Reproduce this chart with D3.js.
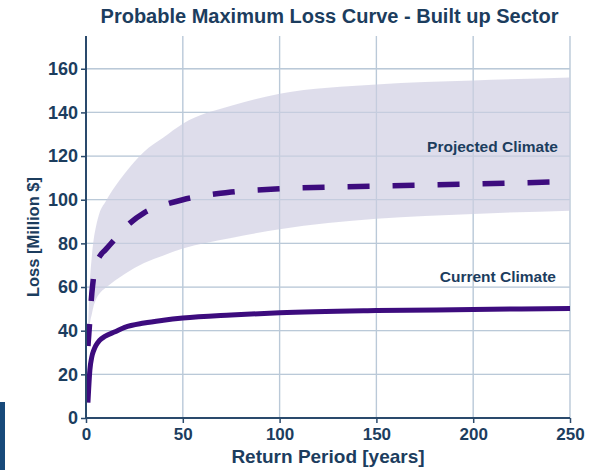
<!DOCTYPE html>
<html>
<head>
<meta charset="utf-8">
<script src="https://cdn.jsdelivr.net/npm/d3@7"></script>
<style>
  html, body { margin: 0; padding: 0; background: #ffffff; }
  svg { display: block; }
</style>
</head>
<body>
<svg id="chart" width="590" height="470"></svg>
<script>
const returnPeriods = [1, 2, 3, 4, 5, 7, 10, 15, 20, 30, 40, 50, 75, 100, 150, 200, 250];
const currentLoss   = [7, 22, 28, 31, 33, 35.6, 37.5, 39.5, 41.5, 43.5, 44.8, 45.8, 47.2, 48.2, 49.2, 49.7, 50.2];
const projectedLoss = [33, 45, 57, 65, 70, 74, 77, 82, 87, 94, 97.5, 100, 103.5, 105, 106.2, 107.2, 108.3];
const upperBound    = [40, 62, 74, 82, 87, 94, 99, 106, 112, 122, 128.5, 134.8, 143, 148.5, 152.8, 154.6, 156];
const lowerBound    = [33, 43, 47.5, 51.5, 54, 57, 59.5, 63, 66, 71, 74.5, 77.6, 82.5, 86.5, 91.3, 93.5, 95];
const xTicks = [0, 50, 100, 150, 200, 250];
const yTicks = [0, 20, 40, 60, 80, 100, 120, 140, 160];

const titleText = "Probable Maximum Loss Curve - Built up Sector";
const xLabel = "Return Period [years]";
const yLabel = "Loss [Million $]";
const seriesLabels = ["Projected Climate", "Current Climate"];

const textColor = "#1c3d5e";
const lineColor = "#3d0c7e";
const bandColor = "#dcdbea";
const gridColor = "#c9d5e2";
const font = "'Liberation Sans', Arial, sans-serif";

const svg = d3.select("#chart");

const x = d3.scaleLinear().domain([0, 250]).range([86, 570]);
const y = d3.scaleLinear().domain([0, 175]).range([418, 36]);

// decorative side bar
svg.append("rect").attr("x", 0).attr("y", 402).attr("width", 5).attr("height", 68).attr("fill", "#17497a");

function drawGrid(g, color) {
  g.selectAll(".vg").data(xTicks.filter(d => d > 0)).enter().append("line")
    .attr("x1", d => x(d)).attr("x2", d => x(d))
    .attr("y1", y(0)).attr("y2", y(175))
    .attr("stroke", color).attr("stroke-width", 1.3);
  g.selectAll(".hg").data(yTicks.filter(d => d > 0)).enter().append("line")
    .attr("x1", x(0)).attr("x2", x(250))
    .attr("y1", d => y(d)).attr("y2", d => y(d))
    .attr("stroke", color).attr("stroke-width", 1.3);
}
drawGrid(svg.append("g"), gridColor);

const pts = returnPeriods.map((r, i) => ({r, cur: currentLoss[i], proj: projectedLoss[i], up: upperBound[i], lo: lowerBound[i]}));

// band
const area = d3.area().x(d => x(d.r)).y0(d => y(d.lo)).y1(d => y(d.up)).curve(d3.curveMonotoneX);
svg.append("path").datum(pts).attr("d", area).attr("fill", bandColor).attr("opacity", 0.95);

// gridlines faintly visible over band
drawGrid(svg.append("g").attr("opacity", 0.35), "#9fb3c8");

// lines
const lineCur = d3.line().x(d => x(d.r)).y(d => y(d.cur)).curve(d3.curveMonotoneX);
const lineProj = d3.line().x(d => x(d.r)).y(d => y(d.proj)).curve(d3.curveMonotoneX);
svg.append("path").datum(pts).attr("d", lineProj).attr("fill", "none")
  .attr("stroke", lineColor).attr("stroke-width", 5.5).attr("stroke-dasharray", "22,23");
svg.append("path").datum(pts).attr("d", lineCur).attr("fill", "none")
  .attr("stroke", lineColor).attr("stroke-width", 5);

// axes
const xAxis = d3.axisBottom(x).tickValues(xTicks).tickSize(5).tickPadding(5);
const yAxis = d3.axisLeft(y).tickValues(yTicks).tickSize(5).tickPadding(3);
const gx = svg.append("g").attr("transform", `translate(0,${y(0)})`).call(xAxis);
const gy = svg.append("g").attr("transform", `translate(${x(0)},0)`).call(yAxis);
[gx, gy].forEach(g => {
  g.select(".domain").attr("stroke", "#2a4a6c").attr("stroke-width", 2);
  g.selectAll(".tick line").attr("stroke", "#2a4a6c").attr("stroke-width", 1.5);
  g.selectAll(".tick text").attr("fill", textColor)
    .style("font-family", font).style("font-weight", "bold");
});
gx.selectAll(".tick text").style("font-size", "17px");
gy.selectAll(".tick text").style("font-size", "18px");
gx.select(".domain").attr("d", `M${x(0)},0H${x(250)}`);
gy.select(".domain").attr("d", `M0,${y(0)}V${y(175)}`);

svg.append("text").attr("x", 329.5).attr("y", 23).attr("text-anchor", "middle")
  .attr("fill", textColor).style("font-family", font).style("font-weight", "bold").style("font-size", "20px")
  .text(titleText);
svg.append("text").attr("x", 328).attr("y", 463).attr("text-anchor", "middle")
  .attr("fill", textColor).style("font-family", font).style("font-weight", "bold").style("font-size", "19px")
  .text(xLabel);
svg.append("text").attr("transform", `translate(39,237) rotate(-90)`).attr("text-anchor", "middle")
  .attr("fill", textColor).style("font-family", font).style("font-weight", "bold").style("font-size", "16.5px")
  .text(yLabel);

svg.append("text").attr("x", 558).attr("y", 152).attr("text-anchor", "end")
  .attr("fill", textColor).style("font-family", font).style("font-weight", "bold").style("font-size", "15.5px")
  .text(seriesLabels[0]);
svg.append("text").attr("x", 556).attr("y", 282).attr("text-anchor", "end")
  .attr("fill", textColor).style("font-family", font).style("font-weight", "bold").style("font-size", "15.5px")
  .text(seriesLabels[1]);
</script>
</body>
</html>
